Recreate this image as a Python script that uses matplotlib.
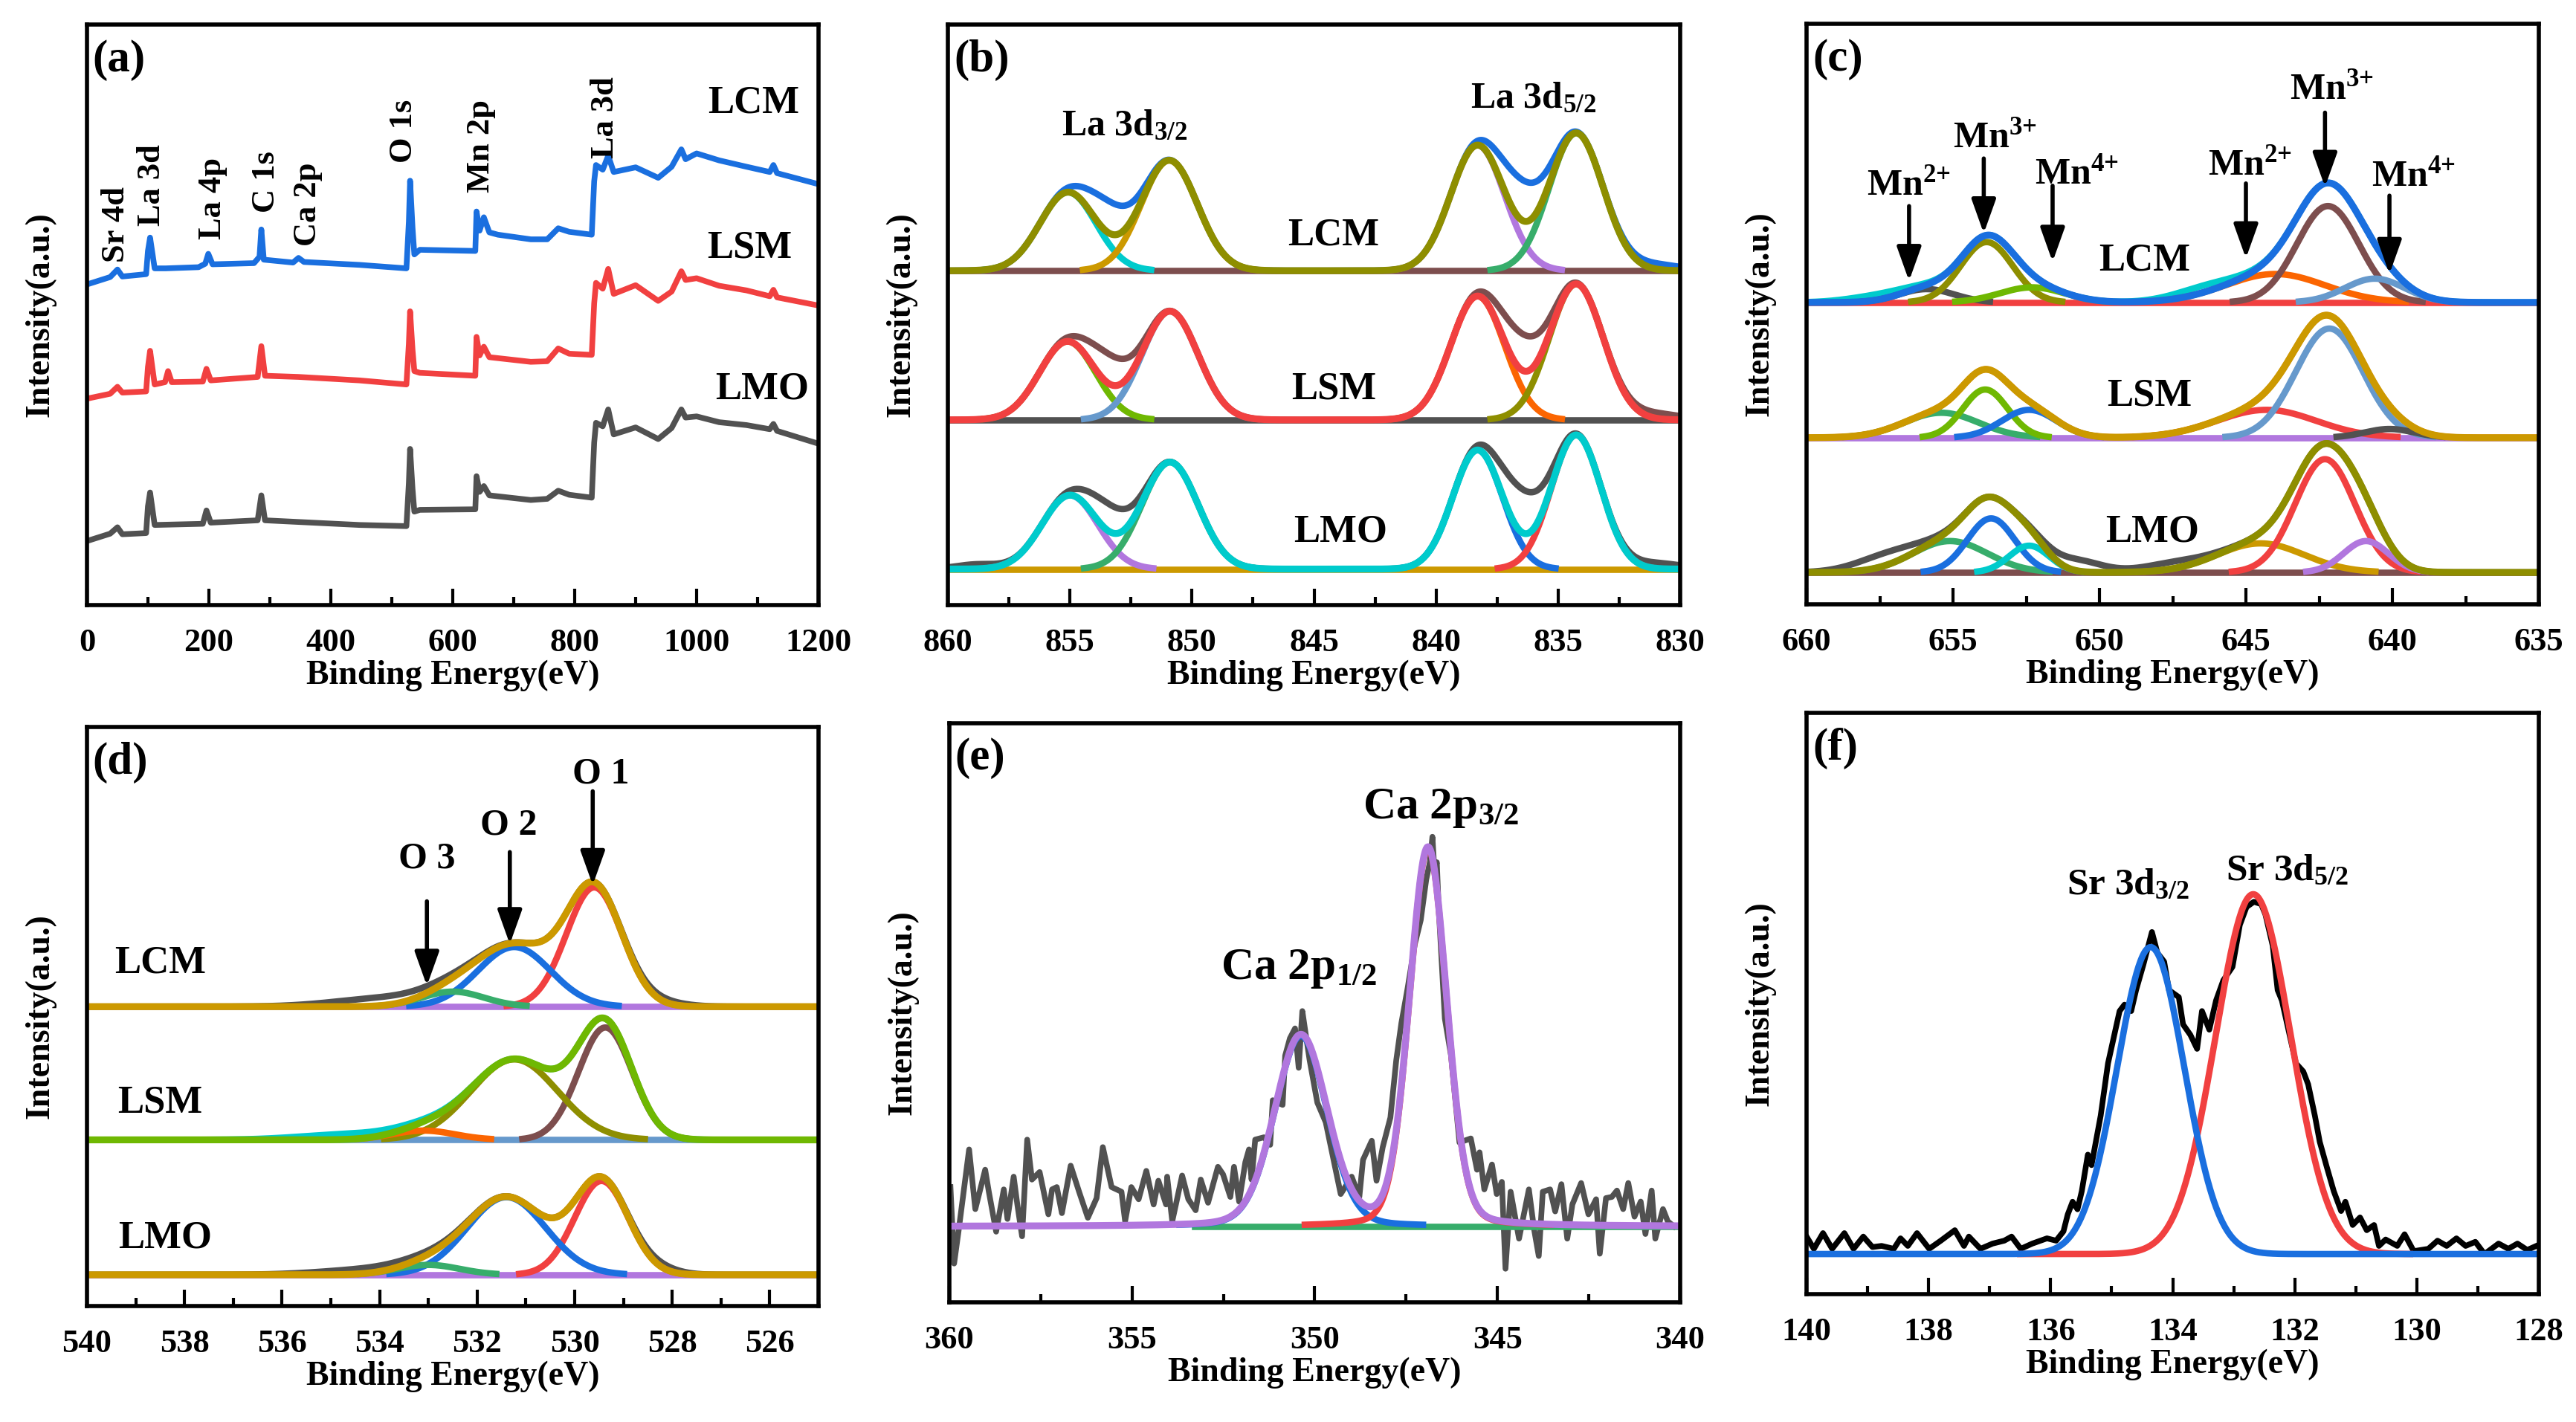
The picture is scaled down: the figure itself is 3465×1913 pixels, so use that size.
import numpy as np
import matplotlib
matplotlib.use('Agg')
import matplotlib.pyplot as plt
from matplotlib.ticker import MultipleLocator

plt.rcParams['font.family'] = ['Liberation Serif', 'DejaVu Serif']
plt.rcParams['font.weight'] = 'bold'
plt.rcParams['mathtext.fontset'] = 'custom'
plt.rcParams['mathtext.rm'] = 'Liberation Serif:bold'
plt.rcParams['mathtext.it'] = 'Liberation Serif:bold'
plt.rcParams['mathtext.bf'] = 'Liberation Serif:bold'
plt.rcParams['mathtext.default'] = 'rm'

# Origin "bright" colours
GRAY = '#515151'; RED = '#F14040'; BLUE = '#1A6FDF'; GREEN = '#37AD6B'
PURPLE = '#B177DE'; GOLD = '#CC9900'; CYAN = '#00CBCC'; BROWN = '#7D4E4E'
OLIVE = '#8E8E00'; ORANGE = '#FB6501'; LBLUE = '#6699CC'; LIME = '#6FB802'

samples = ['LCM', 'LSM', 'LMO']

# ---------------- (a) survey spectra ----------------
a_lcm_x = [2, 38, 50, 58, 97, 100, 103.5, 111, 129, 183, 194, 199, 206, 274, 283, 286, 290,
           338, 347, 356, 447, 524, 528, 530, 534, 537, 546, 637, 639, 644, 651, 660, 674,
           728, 755, 773, 791, 828, 832, 835, 846, 855, 864, 900, 937, 959, 975, 982, 1000,
           1037, 1082, 1120, 1126, 1132, 1200]
a_lcm_y = [55.3, 56.5, 57.8, 56.6, 57.0, 61, 63.3, 58.0, 58.0, 58.2, 58.8, 60.5, 58.7, 58.9, 60, 64.7, 59.5,
           59.0, 59.8, 59.1, 58.6, 58.0, 66, 73.1, 65, 60.4, 61.2, 61.0, 67.8, 64.5, 66.8, 64.2, 63.8,
           63.0, 63.0, 64.9, 64.3, 63.8, 73, 75.8, 75.0, 77.4, 74.6, 75.4, 73.6, 75.5, 78.5, 76.8, 77.8,
           76.6, 75.5, 74.6, 75.8, 74.4, 72.5]
a_lsm_x = [2, 38, 50, 58, 97, 100, 103.5, 111, 128, 133, 139, 190, 196, 203, 280, 286, 292, 347,
           447, 524, 528, 530, 534, 537, 546, 637, 639, 644, 651, 660, 728, 755, 773, 791, 828,
           832, 835, 846, 855, 864, 900, 937, 959, 975, 982, 1000, 1037, 1082, 1120, 1126, 1132, 1200]
a_lsm_y = [35.6, 36.4, 37.6, 36.6, 36.8, 41, 43.8, 38.0, 38.4, 40.3, 38.4, 38.5, 40.7, 38.7, 39.3, 44.6, 39.5, 39.3,
           38.7, 38.0, 45, 50.6, 44, 40.3, 40.0, 39.5, 46.2, 43, 44.5, 42.7, 41.9, 42.0, 44.2, 43.3, 43.1,
           52, 55.5, 54.5, 57.9, 53.6, 55.1, 52.4, 54.0, 57.5, 56.0, 56.3, 55.0, 54.2, 53.2, 54.3, 53.0, 51.6]
a_lmo_x = [2, 38, 50, 58, 97, 100, 103.5, 111, 190, 196, 203, 280, 286, 292, 447, 524, 528, 530,
           534, 537, 546, 637, 639, 644, 651, 660, 728, 755, 773, 791, 828, 832, 835, 846, 855,
           864, 900, 937, 959, 975, 982, 1000, 1037, 1082, 1120, 1126, 1132, 1200]
a_lmo_y = [11.1, 12.3, 13.4, 12.2, 12.4, 17, 19.4, 13.8, 14.0, 16.3, 14.2, 14.6, 18.9, 14.6, 13.8, 13.6, 21, 26.9,
           20, 16.1, 16.4, 16.5, 22.2, 19.5, 20.5, 18.9, 18.1, 18.3, 19.7, 19.0, 18.5, 28, 31.4, 30.8, 33.7,
           29.4, 30.6, 28.6, 30.5, 33.7, 32.3, 32.5, 31.5, 31.0, 30.3, 31.2, 30.0, 27.8]
a_peak_names = ['Sr 4d', 'La 3d', 'La 4p', 'C 1s', 'Ca 2p', 'O 1s', 'Mn 2p', 'La 3d']
a_peak_x = [47, 106, 206, 294, 362, 519, 646, 850]
a_peak_y = [59.0, 65.3, 63.0, 67.6, 61.8, 76.2, 71.1, 77.0]
a_label_x = [1093, 1087, 1107]
a_label_y = [86.5, 61.5, 37.2]

# ---------------- (b) La 3d: (centre eV, height, FWHM) ----------------
b_base = [57.6, 31.9, 6.2]
b_peaks = [
    [(855.08, 13.5, 2.7), (850.93, 19.0, 2.7), (838.3, 21.6, 2.6), (834.26, 23.7, 2.6)],
    [(855.1, 13.5, 2.7), (850.9, 18.7, 2.7), (838.3, 21.3, 2.6), (834.26, 23.4, 2.6)],
    [(855.0, 12.7, 2.7), (850.9, 18.4, 2.7), (838.3, 20.5, 2.4), (834.26, 23.1, 2.4)],
]
b_extra = [
    [(853.4, 5.5, 2.0), (836.5, 7.0, 2.0), (831.0, 1.0, 2.5)],
    [(853.4, 5.1, 2.0), (836.5, 6.3, 2.0), (831.0, 1.0, 2.5)],
    [(853.4, 4.7, 2.0), (836.5, 7.5, 2.0), (831.0, 1.0, 2.5), (858.8, 0.8, 2.0)],
]
b_label_x = [844.2, 844.2, 843.9]
b_label_y = [63.7, 37.2, 12.6]

# ---------------- (c) Mn 2p ----------------
c_base = [52.0, 28.7, 5.5]
c_peaks = [
    [(655.9, 2.3, 2.2), (653.85, 10.4, 2.1), (652.3, 2.6, 2.6), (644.0, 4.9, 4.0), (642.2, 16.6, 2.5), (640.6, 4.1, 2.4)],
    [(655.4, 4.3, 3.0), (653.9, 8.3, 1.8), (652.4, 4.8, 2.2), (644.3, 4.8, 4.0), (642.15, 18.8, 2.7), (640.1, 1.5, 2.0)],
    [(655.1, 5.4, 3.0), (653.7, 9.3, 1.9), (652.4, 4.6, 1.6), (644.5, 5.0, 3.5), (642.3, 19.5, 2.4), (640.9, 5.4, 1.8)],
]
c_extra = [
    [(657.5, 1.0, 2.5), (646.5, 1.2, 2.5)],
    [],
    [(657.3, 2.2, 2.5), (650.8, 2.0, 2.0), (647.5, 1.2, 2.5)],
]
c_label_x = [648.45, 648.3, 648.2]
c_label_y = [59.2, 35.9, 12.5]
c_ann = ['Mn$^{2{+}}$', 'Mn$^{3{+}}$', 'Mn$^{4{+}}$', 'Mn$^{2{+}}$', 'Mn$^{3{+}}$', 'Mn$^{4{+}}$']
c_ann_x = [657.95, 655.0, 652.2, 646.3, 643.5, 640.7]
c_ann_y = [70.5, 78.7, 72.5, 74.0, 87.1, 72.1]
c_arrow_x = [656.5, 653.95, 651.6, 645.0, 642.3, 640.1]
c_arrow_y0 = [68.6, 76.8, 72.1, 72.5, 84.7, 70.4]
c_arrow_y1 = [55.7, 63.9, 59.0, 59.6, 71.9, 56.9]

# ---------------- (d) O 1s ----------------
d_base = [51.7, 28.7, 5.4]
d_peaks = [
    [(529.6, 20.6, 1.35), (531.24, 10.3, 1.75), (532.5, 2.6, 1.5)],
    [(529.37, 19.4, 1.3), (531.24, 13.9, 2.1), (533.1, 1.6, 1.5)],
    [(529.45, 16.2, 1.3), (531.4, 13.4, 1.9), (533.0, 1.7, 1.5)],
]
d_extra = [
    [(533.8, 1.5, 2.5), (528.3, 0.7, 1.2)],
    [(534.5, 1.0, 2.5)],
    [(534.0, 1.0, 2.5), (528.3, 0.8, 1.0)],
]
d_label_x = [538.5, 538.5, 538.4]
d_label_y = [59.2, 35.1, 11.7]
d_ann = ['O 3', 'O 2', 'O 1']
d_ann_x = [533.62, 531.94, 530.05]
d_ann_y = [75.7, 81.4, 90.3]
d_arrow_x = [533.03, 531.33, 529.63]
d_arrow_y0 = [69.9, 78.4, 88.9]
d_arrow_y1 = [55.3, 62.5, 72.7]

# ---------------- (e) Ca 2p ----------------
e_raw_x = [359.97, 359.87, 359.74, 359.46, 359.29, 359.02, 358.92, 358.72, 358.51, 358.41, 358.24, 358.14,
           358.01, 357.87, 357.74, 357.53, 357.29, 357.19, 357.06, 356.92, 356.68, 356.45, 356.21, 355.97,
           355.80, 355.56, 355.29, 355.19, 355.02, 354.82, 354.61, 354.41, 354.28, 354.07, 354.04, 353.90,
           353.80, 353.63, 353.46, 353.26, 353.12, 352.92, 352.65, 352.51, 352.31, 352.21, 352.07, 351.90,
           351.80, 351.73, 351.63, 351.39, 351.22, 351.15, 350.88, 350.81, 350.68, 350.54, 350.44, 350.34,
           350.24, 350.14, 349.93, 349.70, 349.29, 348.99, 348.78, 348.68, 348.44, 348.31, 348.14, 347.93,
           347.77, 347.63, 347.46, 347.26, 347.10, 346.95, 346.85, 346.78, 346.72, 346.66, 346.61, 346.44,
           346.27, 346.04, 345.73, 345.56, 345.49, 345.36, 345.15, 345.02, 344.88, 344.78, 344.64, 344.41,
           344.14, 344.00, 343.87, 343.76, 343.56, 343.42, 343.25, 343.09, 342.95, 342.71, 342.51, 342.30,
           342.20, 342.03, 341.87, 341.73, 341.56, 341.42, 341.25, 341.08, 340.95, 340.78, 340.68, 340.47,
           340.34, 340.17]
e_raw_y = [19.9, 6.7, 12.7, 26.4, 16.1, 22.9, 19.1, 12.2, 19.5, 14.4, 21.7, 16.9,
           11.4, 28.1, 21.2, 22.5, 15.2, 19.5, 19.9, 15.4, 23.6, 19.1, 14.6, 18.0,
           26.8, 19.9, 19.1, 14.0, 19.9, 17.8, 22.7, 16.9, 21.0, 16.9, 21.7, 14.0,
           16.9, 21.9, 17.8, 15.9, 21.2, 17.2, 23.4, 22.1, 18.2, 23.4, 17.4, 24.2,
           26.4, 21.2, 28.1, 28.5, 27.2, 34.9, 34.1, 42.6, 45.6, 47.3, 40.5, 50.3,
           46.0, 41.8, 34.5, 31.1, 18.7, 21.7, 18.2, 24.6, 27.9, 21.0, 26.8, 31.9,
           41.8, 48.2, 54.2, 61.9, 66.0, 73.0, 76.0, 80.4, 74.0, 76.0, 68.3, 49.0,
           42.6, 27.6, 28.3, 22.9, 25.9, 19.5, 23.8, 18.7, 20.8, 5.8, 19.1, 11.0,
           19.5, 12.7, 8.0, 19.1, 19.5, 15.7, 20.4, 11.0, 16.9, 20.6, 15.2, 17.8,
           8.4, 18.0, 18.2, 19.3, 16.1, 20.6, 14.8, 17.4, 11.8, 19.3, 11.0, 16.1,
           14.0, 13.1]
e_base = 13.1
e_peaks = [(350.38, 32.9, 1.7, 0.15), (346.9, 65.3, 1.2, 0.15)]   # centre, height, FWHM, lorentz share
e_ann = ['Ca 2p$_{1/2}$', 'Ca 2p$_{3/2}$']
e_ann_x = [352.57, 348.68]
e_ann_y = [55.9, 83.6]

# ---------------- (f) Sr 3d ----------------
f_raw_x = [140.00, 139.88, 139.73, 139.58, 139.38, 139.23, 139.07, 138.92, 138.77, 138.57, 138.46, 138.34,
           138.19, 137.99, 137.80, 137.57, 137.42, 137.34, 137.15, 136.95, 136.76, 136.64, 136.49, 136.30,
           136.06, 135.91, 135.79, 135.72, 135.64, 135.56, 135.49, 135.39, 135.33, 135.18, 135.06, 134.87,
           134.79, 134.68, 134.60, 134.48, 134.34, 134.25, 134.14, 134.06, 133.90, 133.83, 133.71, 133.60,
           133.52, 133.40, 133.29, 133.17, 133.02, 132.90, 132.79, 132.67, 132.55, 132.48, 132.36, 132.28,
           132.21, 131.98, 131.86, 131.78, 131.67, 131.59, 131.47, 131.36, 131.24, 131.17, 131.05, 130.93,
           130.82, 130.70, 130.62, 130.51, 130.32, 130.20, 130.05, 129.81, 129.66, 129.51, 129.35, 129.20,
           129.04, 128.89, 128.66, 128.50, 128.35, 128.19, 128.04]
f_raw_y = [9.9, 7.8, 10.5, 7.8, 10.5, 7.8, 9.9, 8.1, 8.3, 7.8, 9.6, 8.3,
           10.5, 7.8, 9.2, 11.0, 8.3, 9.9, 7.8, 8.7, 9.2, 9.9, 7.8, 8.7,
           9.6, 9.2, 10.8, 13.7, 15.9, 14.6, 17.7, 24.0, 22.2, 30.7, 39.7, 48.7,
           49.8, 48.7, 52.3, 56.7, 62.3, 58.7, 57.2, 52.3, 51.1, 46.4, 44.6, 42.2,
           48.7, 45.5, 50.5, 54.0, 56.3, 63.5, 66.6, 67.5, 67.1, 65.3, 59.9, 52.3,
           50.5, 39.7, 38.3, 36.1, 30.7, 26.2, 21.7, 17.7, 14.3, 15.9, 11.9, 13.2,
           11.0, 11.9, 8.3, 9.4, 8.3, 10.3, 7.4, 7.8, 9.2, 8.3, 9.6, 8.3,
           9.0, 6.9, 8.7, 7.8, 8.7, 7.6, 8.3]
f_base = 6.9
f_peaks = [(134.36, 52.8, 1.3), (132.68, 61.9, 1.45)]
f_ann = ['Sr 3d$_{3/2}$', 'Sr 3d$_{5/2}$']
f_ann_x = [135.73, 133.13]
f_ann_y = [68.8, 71.2]

# colours for (raw, baseline, components..., envelope) of each sample
b_cols = [(BLUE, BROWN, [CYAN, GOLD, PURPLE, GREEN], OLIVE),
          (BROWN, GRAY, [LIME, LBLUE, ORANGE, OLIVE], RED),
          (GRAY, GOLD, [PURPLE, GREEN, BLUE, RED], CYAN)]
c_cols = [(CYAN, RED, [GRAY, OLIVE, LIME, ORANGE, BROWN, LBLUE], BLUE),
          (ORANGE, PURPLE, [GREEN, LIME, BLUE, RED, LBLUE, GRAY], GOLD),
          (GRAY, BROWN, [GREEN, BLUE, CYAN, GOLD, RED, PURPLE], OLIVE)]
d_cols = [(GRAY, PURPLE, [RED, BLUE, GREEN], GOLD),
          (CYAN, LBLUE, [BROWN, OLIVE, ORANGE], LIME),
          (GRAY, PURPLE, [RED, BLUE, GREEN], GOLD)]

LW = 6.2


def peak(x, c, h, w, eta=0.0):
    g = np.exp(-4 * np.log(2) * ((x - c) / w) ** 2)
    l = 1.0 / (1 + 4 * ((x - c) / w) ** 2)
    return h * ((1 - eta) * g + eta * l)


def draw_fit(ax, x, base, peaks, extra, cols):
    raw_c, base_c, comp_c, env_c = cols
    comps = [peak(x, *p) for p in peaks]
    env = base + np.sum(comps, axis=0)
    raw = env + sum(peak(x, *p) for p in extra) if extra else env.copy()
    ax.plot(x, raw, color=raw_c, lw=LW)
    ax.plot(x, np.full_like(x, base), color=base_c, lw=LW)
    for c, col in zip(comps, comp_c):
        ax.plot(x, np.where(c > 0.15, base + c, np.nan), color=col, lw=LW)
    ax.plot(x, env, color=env_c, lw=LW + 0.5)


def style(ax, xlim, major, minor, tag):
    ax.set_xlim(*xlim)
    ax.set_ylim(0, 100)
    ax.xaxis.set_major_locator(MultipleLocator(major))
    ax.xaxis.set_minor_locator(MultipleLocator(minor))
    ax.set_yticks([])
    ax.tick_params(axis='x', which='major', direction='in', length=16, width=3,
                   labelsize=32, pad=22)
    ax.tick_params(axis='x', which='minor', direction='in', length=8, width=3)
    for s in ax.spines.values():
        s.set_linewidth(4)
    ax.set_xlabel('Binding Energy(eV)', fontsize=33, fontweight='bold', labelpad=2)
    ax.set_ylabel('Intensity(a.u.)', fontsize=33, fontweight='bold', labelpad=30)
    ax.text(0.008, 0.975, tag, transform=ax.transAxes, ha='left', va='top',
            fontsize=44, fontweight='bold')


def arrows(ax, xs, y0s, y1s):
    for x, y0, y1 in zip(xs, y0s, y1s):
        ax.annotate('', xy=(x, y1), xytext=(x, y0),
                    arrowprops=dict(arrowstyle='-|>,head_width=0.25,head_length=0.7',
                                    mutation_scale=40, lw=4, color='k',
                                    shrinkA=0, shrinkB=0))


fig = plt.figure(figsize=(34.65, 19.13), dpi=100)
W, H = 3465, 1913
boxes = {
    'a': (117, 33, 1101, 814), 'b': (1275, 33, 2260, 814), 'c': (2430, 32, 3415, 813),
    'd': (117, 978, 1101, 1757), 'e': (1277, 973, 2260, 1752), 'f': (2430, 959, 3415, 1741),
}
axs = {}
for k, (l, t, r, b) in boxes.items():
    axs[k] = fig.add_axes([l / W, 1 - b / H, (r - l) / W, (b - t) / H])

# (a)
ax = axs['a']
ax.plot(a_lcm_x, a_lcm_y, color=BLUE, lw=5.5)
ax.plot(a_lsm_x, a_lsm_y, color=RED, lw=5.5)
ax.plot(a_lmo_x, a_lmo_y, color=GRAY, lw=5.5)
for name, x, y in zip(a_peak_names, a_peak_x, a_peak_y):
    ax.text(x, y, name, rotation=90, ha='center', va='bottom', fontsize=32)
for name, x, y in zip(samples, a_label_x, a_label_y):
    ax.text(x, y, name, ha='center', va='center', fontsize=38)
style(ax, (0, 1200), 200, 100, '(a)')

# (b)
ax = axs['b']
xb = np.linspace(860, 830, 700)
for i in range(3):
    draw_fit(ax, xb, b_base[i], b_peaks[i], b_extra[i], b_cols[i])
    ax.text(b_label_x[i], b_label_y[i], samples[i], ha='center', va='center', fontsize=38)
ax.text(855.35, 80.9, 'La 3d$_{3/2}$', ha='left', va='baseline', fontsize=36)
ax.text(838.6, 85.6, 'La 3d$_{5/2}$', ha='left', va='baseline', fontsize=36)
style(ax, (860, 830), 5, 2.5, '(b)')

# (c)
ax = axs['c']
xc = np.linspace(660, 635, 700)
for i in range(3):
    draw_fit(ax, xc, c_base[i], c_peaks[i], c_extra[i], c_cols[i])
    ax.text(c_label_x[i], c_label_y[i], samples[i], ha='center', va='center', fontsize=38)
for t, x, y in zip(c_ann, c_ann_x, c_ann_y):
    ax.text(x, y, t, ha='left', va='baseline', fontsize=36)
arrows(ax, c_arrow_x, c_arrow_y0, c_arrow_y1)
style(ax, (660, 635), 5, 2.5, '(c)')

# (d)
ax = axs['d']
xd = np.linspace(540, 525, 700)
for i in range(3):
    draw_fit(ax, xd, d_base[i], d_peaks[i], d_extra[i], d_cols[i])
    ax.text(d_label_x[i], d_label_y[i], samples[i], ha='center', va='center', fontsize=38)
for t, x, y in zip(d_ann, d_ann_x, d_ann_y):
    ax.text(x, y, t, ha='left', va='baseline', fontsize=36)
arrows(ax, d_arrow_x, d_arrow_y0, d_arrow_y1)
style(ax, (540, 525), 2, 1, '(d)')

# (e)
ax = axs['e']
xe = np.linspace(360, 340, 700)
ax.plot(e_raw_x, e_raw_y, color=GRAY, lw=5.5)
xe_b = xe[xe <= 353.3]
ax.plot(xe_b, np.full_like(xe_b, e_base), color=GREEN, lw=LW)
for p, col in zip(e_peaks, [BLUE, RED]):
    c = peak(xe, *p)
    ax.plot(xe, np.where(c > 0.3, e_base + c, np.nan), color=col, lw=LW)
ax.plot(xe, e_base + sum(peak(xe, *p) for p in e_peaks), color=PURPLE, lw=LW + 0.5)
for t, x, y in zip(e_ann, e_ann_x, e_ann_y):
    ax.text(x, y, t, ha='left', va='baseline', fontsize=44)
style(ax, (360, 340), 5, 2.5, '(e)')

# (f)
ax = axs['f']
xf = np.linspace(140, 128, 700)
ax.plot(f_raw_x, f_raw_y, color='black', lw=5.5)
xf_r = xf[(xf <= 136.5) & (xf >= 130.1)]
ax.plot(xf_r, f_base + peak(xf_r, *f_peaks[1]), color=RED, lw=LW)
ax.plot(xf, f_base + peak(xf, *f_peaks[0]), color=BLUE, lw=LW)
for t, x, y in zip(f_ann, f_ann_x, f_ann_y):
    ax.text(x, y, t, ha='left', va='baseline', fontsize=37)
style(ax, (140, 128), 2, 1, '(f)')

fig.savefig('out.png', dpi=100)
